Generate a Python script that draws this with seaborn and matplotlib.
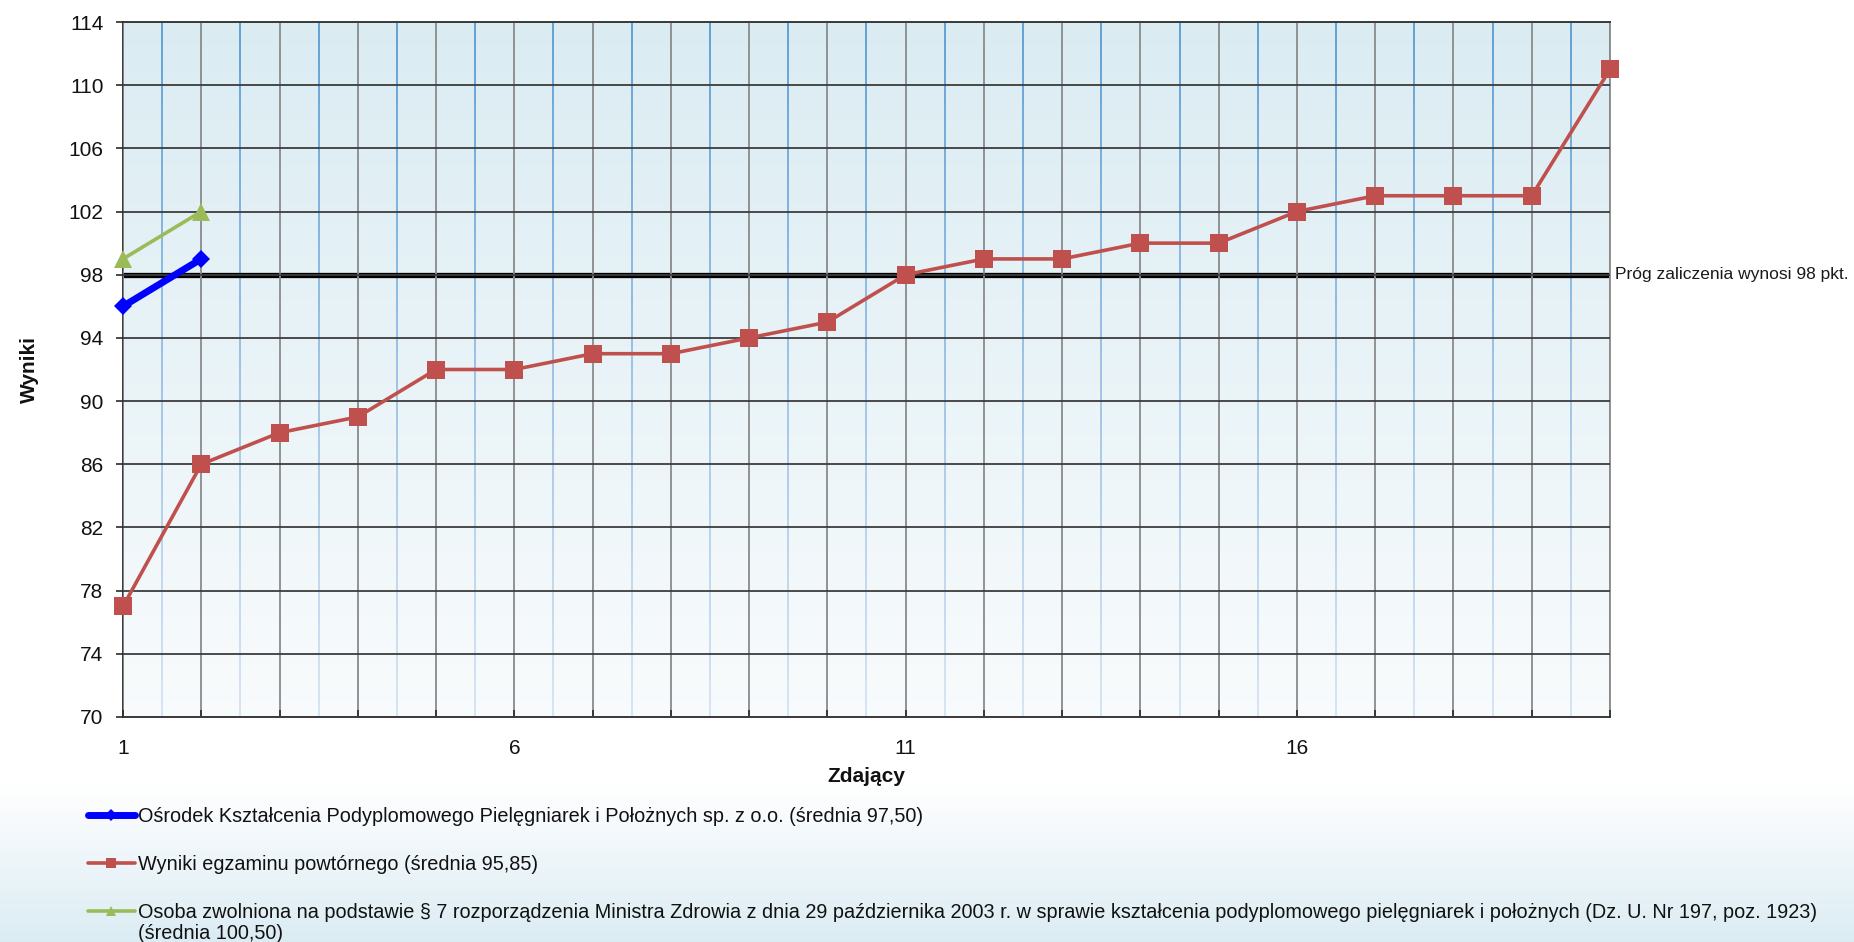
import numpy as np
import pandas as pd
import matplotlib
matplotlib.use("Agg")
import matplotlib.pyplot as plt
import matplotlib.transforms as mtransforms
from matplotlib.collections import LineCollection
import seaborn as sns

# ---------------- data ----------------
zdajacy_osrodek = [1, 2]
wyniki_osrodek = [96, 99]
zdajacy_powt = list(range(1, 21))
wyniki_powt = [77, 86, 88, 89, 92, 92, 93, 93, 94, 95,
               98, 99, 99, 100, 100, 102, 103, 103, 103, 111]
zdajacy_zwol = [1, 2]
wyniki_zwol = [99, 102]
prog = 98

label_osrodek = "Ośrodek Kształcenia Podyplomowego Pielęgniarek i Położnych sp. z o.o. (średnia 97,50)"
label_powt = "Wyniki egzaminu powtórnego (średnia 95,85)"
label_zwol_1 = ("Osoba zwolniona na podstawie § 7 rozporządzenia Ministra Zdrowia z dnia 29 października 2003 r. "
                "w sprawie kształcenia podyplomowego pielęgniarek i położnych (Dz. U. Nr 197, poz. 1923)")
label_zwol_2 = "(średnia 100,50)"
prog_label = "Próg zaliczenia wynosi 98 pkt."
x_label = "Zdający"
y_label = "Wyniki"
y_ticks = list(range(70, 115, 4))
x_ticks = [1, 6, 11, 16]

# ---------------- style ----------------
sns.set_theme(style="white")
plt.rcParams['font.family'] = ['Liberation Sans', 'DejaVu Sans']

W, H = 1854, 942
fig = plt.figure(figsize=(W / 100, H / 100), dpi=100)

# figure background: white -> light blue at the bottom
bg = fig.add_axes([0, 0, 1, 1], zorder=-10)
rows = np.linspace(0, 1, H)  # 0 = top
start = 785 / H
t = np.clip((rows - start) / (1 - start), 0, 1)
top_c = np.array([1.0, 1.0, 1.0])
bot_c = np.array([0.86, 0.925, 0.955])
img = (top_c[None, :] * (1 - t[:, None]) + bot_c[None, :] * t[:, None])[:, None, :]
bg.imshow(img, extent=[0, 1, 0, 1], aspect='auto', origin='upper')
bg.set_axis_off()

# main axes
L, R, T, B = 123, 1610, 22, 717
ax = fig.add_axes([L / W, 1 - B / H, (R - L) / W, (B - T) / H])
ax.set_xlim(1, 20)
ax.set_ylim(70, 114)

# plot-area gradient
t2 = np.linspace(0, 1, 300)[:, None]
c_top = np.array([0.855, 0.925, 0.95])
c_bot = np.array([0.975, 0.985, 0.99])
pimg = (c_top[None, :] * (1 - t2) + c_bot[None, :] * t2)[:, None, :]
ax.imshow(pimg, extent=[1, 20, 70, 114], aspect='auto', origin='upper', zorder=0)

# grid lines
ax.set_yticks(y_ticks)
ax.set_xticks(x_ticks)
ax.set_xticks(list(range(1, 21)), minor=True)
ax.grid(axis='y', which='major', color='#3c3c3c', lw=1.3, zorder=1)
ax.grid(axis='x', which='both', color='#8a8a8a', lw=1.3, zorder=1)
ax.set_axisbelow(False)

# half-step blue lines, fading towards the bottom
halfs = np.arange(1.5, 20, 1.0)
ys = np.linspace(114, 70, 60)
segs, cols = [], []
blue_top = np.array([0.30, 0.58, 0.82])
blue_bot = np.array([0.82, 0.88, 0.95])
for hx in halfs:
    for i in range(len(ys) - 1):
        segs.append([(hx, ys[i]), (hx, ys[i + 1])])
        f = i / (len(ys) - 2)
        cols.append(tuple(blue_top * (1 - f) + blue_bot * f))
ax.add_collection(LineCollection(segs, colors=cols, linewidths=1.2, zorder=1))

# threshold
ax.axhline(prog, color='black', lw=3.8, zorder=2)
trans = mtransforms.blended_transform_factory(ax.transAxes, ax.transData)
ax.text(1.0 + 5 / (R - L), prog, prog_label, transform=trans, va='center', ha='left',
        fontsize=12.5, color='#1a1a1a')

# series
df_o = pd.DataFrame({"x": zdajacy_osrodek, "y": wyniki_osrodek})
df_p = pd.DataFrame({"x": zdajacy_powt, "y": wyniki_powt})
df_z = pd.DataFrame({"x": zdajacy_zwol, "y": wyniki_zwol})

sns.lineplot(data=df_p, x="x", y="y", ax=ax, color='#C0504D', lw=2.6, marker='s',
             markersize=12.5, markeredgecolor='#C0504D', markeredgewidth=0, zorder=4, legend=False)
line_p = ax.lines[-1]
sns.lineplot(data=df_o, x="x", y="y", ax=ax, color='#0000FF', lw=5, marker='D',
             markersize=9.5, markeredgecolor='#0000FF', markeredgewidth=0, zorder=4, legend=False)
line_o = ax.lines[-1]
sns.lineplot(data=df_z, x="x", y="y", ax=ax, color='#9BBB59', lw=2.6, marker='^',
             markersize=13, markeredgecolor='#9BBB59', markeredgewidth=0, zorder=4, legend=False)
line_z = ax.lines[-1]
for ln in (line_p, line_o, line_z):
    ln.set_clip_on(False)

# axes styling
for side in ['left', 'bottom', 'top']:
    ax.spines[side].set_visible(True)
    ax.spines[side].set_color('#2a2a2a')
    ax.spines[side].set_linewidth(1.3)
ax.spines['right'].set_color('#8a8a8a')
ax.spines['right'].set_linewidth(1.3)

ax.tick_params(axis='y', which='major', direction='out', length=5, width=1.2, color='#2a2a2a',
               labelsize=15, pad=9, left=True, labelcolor='#111111')
ax.tick_params(axis='x', which='both', direction='in', length=5, width=1.2, color='#2a2a2a',
               bottom=True)
ax.tick_params(axis='x', which='major', labelsize=15, pad=16, labelcolor='#111111')
ax.set_xticklabels([str(v) for v in x_ticks])
ax.set_yticklabels([str(v) for v in y_ticks])

ax.set_xlabel(x_label, fontsize=15, fontweight='bold', labelpad=6, color='#111111')
ax.set_ylabel(y_label, fontsize=15, fontweight='bold', labelpad=21, color='#111111')

# legend
handles = [line_o, line_p, line_z]
leg = fig.legend(handles=handles, labels=[label_osrodek, label_powt, label_zwol_1],
                 loc='upper left', bbox_to_anchor=(88 / W, 1 - 807 / H),
                 frameon=False, fontsize=14.3, handlelength=2.35, handletextpad=0.15,
                 labelspacing=1.47, borderpad=0, borderaxespad=0, markerscale=0.6)
for txt in leg.get_texts():
    txt.set_color('#111111')
fig.canvas.draw()
tb = leg.get_texts()[2].get_window_extent()
fig.text(tb.x0 / W, (tb.y0 - 21) / H, label_zwol_2, fontsize=14.3, color='#111111',
         ha='left', va='bottom')

fig.savefig("out.png", dpi=100)
